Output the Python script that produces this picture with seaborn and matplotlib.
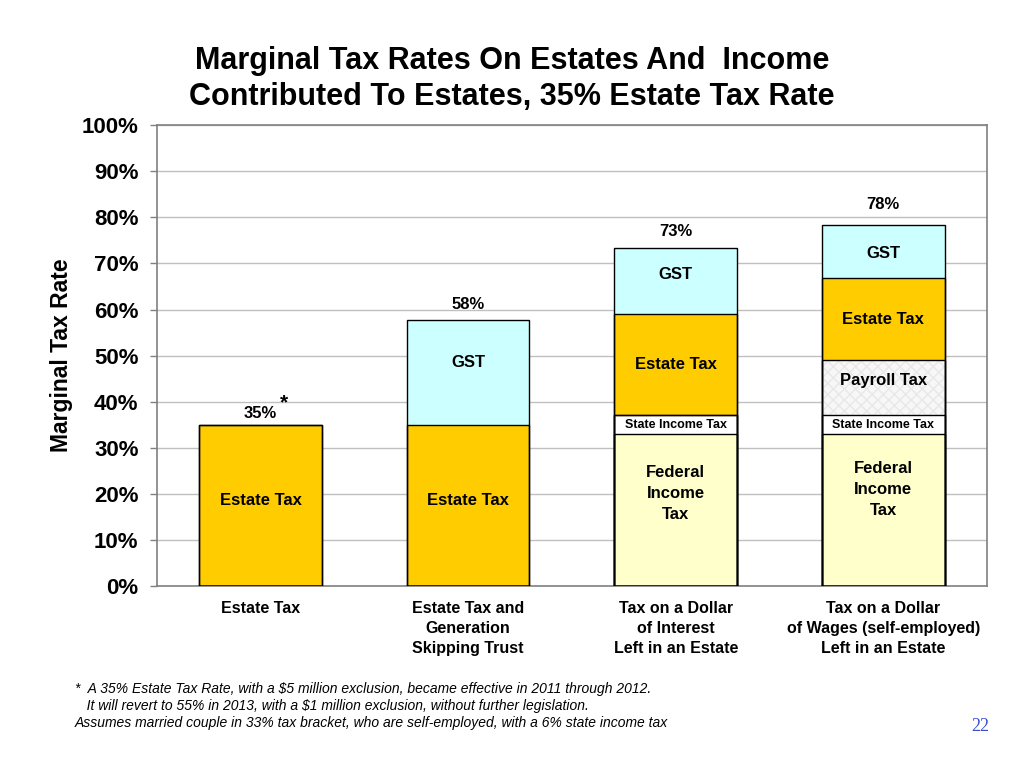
import numpy as np
import pandas as pd
import matplotlib
matplotlib.use("Agg")
import matplotlib.pyplot as plt
import seaborn as sns

# --- data (percent) ---
categories = ["Estate Tax",
              "Estate Tax and\nGeneration\nSkipping Trust",
              "Tax on a Dollar\nof Interest\nLeft in an Estate",
              "Tax on a Dollar\nof Wages (self-employed)\nLeft in an Estate"]
federal = [0, 0, 33, 33]
state = [0, 0, 4, 4]
payroll = [0, 0, 0, 12]
estate = [35, 35, 22, 17.8]
gst = [0, 22.8, 14.4, 11.6]
total_labels = ["35%", "58%", "73%", "78%"]

layer_names = ["Federal Income Tax", "State Income Tax", "Payroll Tax", "Estate Tax", "GST"]
layer_colors = ["#ffffcc", "#ffffff", "#f7f7f7", "#ffcc00", "#ccffff"]

df = pd.DataFrame({"cat": categories, "federal": federal, "state": state,
                   "payroll": payroll, "estate": estate, "gst": gst})
cum = df[["federal", "state", "payroll", "estate", "gst"]].cumsum(axis=1)
df = pd.concat([df, cum.add_prefix("cum_")], axis=1)

sns.set_style("white")
plt.rcParams['font.family'] = ['Liberation Sans', 'DejaVu Sans']
plt.rcParams['text.color'] = 'black'
plt.rcParams['axes.labelcolor'] = 'black'
plt.rcParams['xtick.labelcolor'] = 'black'
plt.rcParams['ytick.labelcolor'] = 'black'

fig = plt.figure(figsize=(10.24, 7.68), dpi=100)
ax = fig.add_axes([0.153, 0.237, 0.811, 0.600])

keys = ["federal", "state", "payroll", "estate", "gst"]
bw = 0.59

# fill pass: tallest cumulative layer first, lower ones cover it
for key, color in reversed(list(zip(keys, layer_colors))):
    kw = dict(edgecolor="none", linewidth=0)
    if key == "payroll":
        kw = dict(edgecolor="#e8e8e8", linewidth=0, hatch="xxx")
    sns.barplot(data=df, x="cat", y="cum_" + key, order=categories, color=color,
                saturation=1, width=bw, ax=ax, errorbar=None, zorder=2, **kw)

# outline pass so every segment boundary is black
for key in keys:
    sns.barplot(data=df, x="cat", y="cum_" + key, order=categories, color="black",
                fill=False, width=bw, ax=ax, errorbar=None, linewidth=1.0, zorder=3)

# segment labels
seg_font = dict(fontsize=12, fontweight="bold", ha="center", va="center", zorder=4)
gst_shift = [0, 2.2, 1.5, -0.5]
total_shift = [0.9, 1.6, 1.9, 2.8]
for i in range(len(categories)):
    base = 0
    for key in keys:
        h = df[key][i]
        if h > 0:
            mid = base + h / 2
            if key == "federal":
                ax.text(i, mid + (3.5 if i == 2 else 4.5), "Federal\nIncome\nTax",
                        linespacing=1.5, **seg_font)
            elif key == "state":
                ax.text(i, mid, "State Income Tax", fontsize=9, fontweight="bold",
                        ha="center", va="center", zorder=4)
            elif key == "estate" and i < 2:
                ax.text(i, base + h * 0.53, "Estate Tax", **seg_font)
            elif key == "gst":
                ax.text(i, mid + gst_shift[i], "GST", **seg_font)
            elif key == "payroll":
                ax.text(i, mid + 1.5, "Payroll Tax", **seg_font)
            else:
                ax.text(i, mid, "Estate Tax", **seg_font)
        base += h
    top = df["cum_gst"][i]
    ax.text(i, top + total_shift[i], total_labels[i], fontsize=12,
            fontweight="bold", ha="center", va="bottom", zorder=4)
ax.text(0.115, df["cum_gst"][0] + 2.6, "*", fontsize=15, fontweight="bold",
        ha="center", va="bottom")

ax.set_ylim(0, 100)
ax.set_xlim(-0.5, len(categories) - 0.5)
ax.set_yticks(np.arange(0, 101, 10))
ax.set_yticklabels([f"{v}%" for v in range(0, 101, 10)], fontsize=16, fontweight="bold")
ax.set_xticks(range(len(categories)))
ax.set_xticklabels(categories, fontsize=11.5, fontweight="bold", linespacing=1.4,
                   va="top")
ax.tick_params(axis="x", length=0, pad=11)
ax.tick_params(axis="y", length=5, color="#808080", width=1, left=True, pad=8)
ax.set_xlabel("")
ax.set_ylabel("Marginal Tax Rate", fontsize=16.5, fontweight="bold", labelpad=6)
ax.yaxis.grid(True, color="#c0c0c0", linewidth=1)
ax.set_axisbelow(True)
for s in ax.spines.values():
    s.set_color("#808080")
    s.set_linewidth(1.2)

fig.text(0.5, 0.897, "Marginal Tax Rates On Estates And  Income\nContributed To Estates, 35% Estate Tax Rate",
         ha="center", va="center", fontsize=22, fontweight="bold", linespacing=1.27)

foot = ("*  A 35% Estate Tax Rate, with a $5 million exclusion, became effective in 2011 through 2012.\n"
        "   It will revert to 55% in 2013, with a $1 million exclusion, without further legislation.\n"
        "Assumes married couple in 33% tax bracket, who are self-employed, with a 6% state income tax")
fig.text(0.073, 0.049, foot, fontsize=10, fontstyle="italic", ha="left", va="bottom",
         linespacing=1.3)
fig.text(0.957, 0.043, "22", fontsize=13, color="#3a4fc8", family="Liberation Serif",
         ha="center", va="bottom")

fig.savefig("out.png", dpi=100)
